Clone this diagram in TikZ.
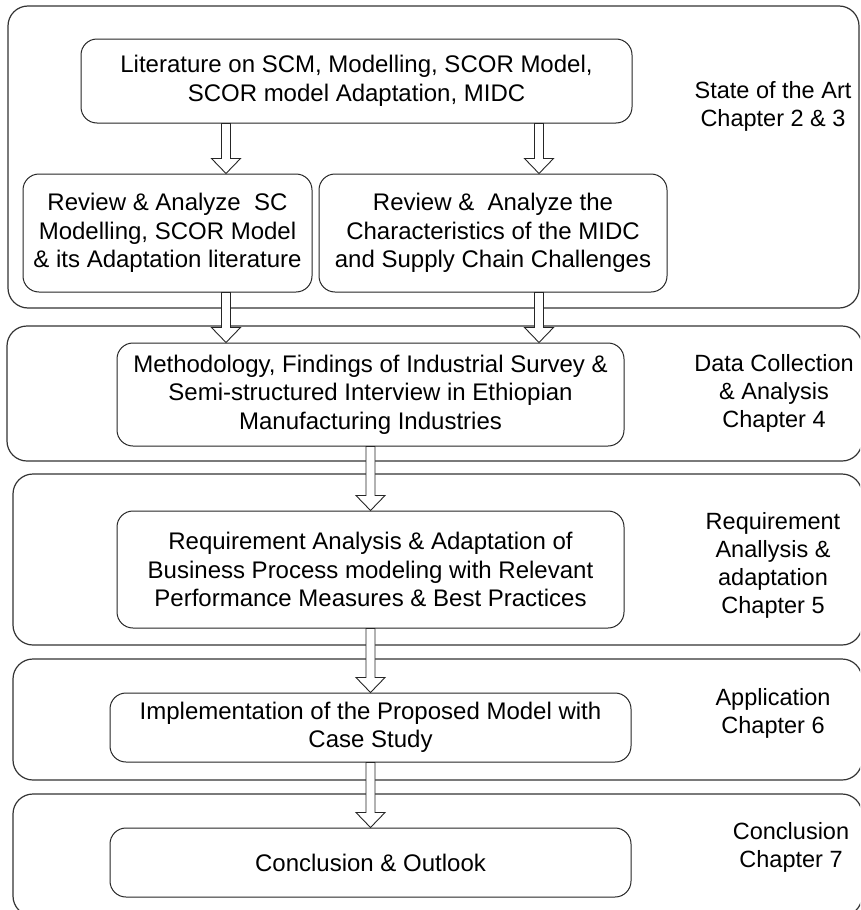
\documentclass[tikz,border=0pt]{standalone}
\usepackage{fontspec}
\setmainfont{Liberation Sans}
\usetikzlibrary{calc}

\tikzset{
  panel/.style={draw=black!80, line width=1.2pt, rounded corners=20pt, inner sep=0pt},
  stepbox/.style={draw=black!85, line width=1pt, rounded corners=16pt, fill=white,
    align=center, inner sep=0pt, font=\fontsize{24}{28.5}\selectfont},
  chapterlabel/.style={align=center, inner sep=0pt, font=\fontsize{23.5}{28}\selectfont},
  flow/.style={draw=black!85, line width=0.9pt, fill=white, line join=miter}
}

% hollow block arrow: #1 column coordinate, #2 source node, #3 target node
\newcommand\flowarrow[3]{%
  \draw[flow] let \p1=(#1 |- #2.south), \p2=(#1 |- #3.north) in
    (\x1-4.5pt,\y1) -- (\x1-4.5pt,\y2+15pt) -- (\x1-14.5pt,\y2+15pt) -- (\x2,\y2)
    -- (\x1+14.5pt,\y2+15pt) -- (\x1+4.5pt,\y2+15pt) -- (\x1+4.5pt,\y1) -- cycle;}

\begin{document}
\begin{tikzpicture}[x=1pt, y=-1pt]
  \useasboundingbox (0,0) rectangle (860,910);
  \clip (0,0) rectangle (860,910);

  % chapter panels
  \node[panel, minimum width=851pt, minimum height=302pt] (p1) at (433.5,157) {};
  \node[panel, minimum width=855pt, minimum height=135pt] (p2) at (434.5,393.5) {};
  \node[panel, minimum width=849pt, minimum height=171pt] (p3) at (437.5,559.5) {};
  \node[panel, minimum width=849pt, minimum height=121pt] (p4) at (437.5,719.5) {};
  \node[panel, minimum width=849pt, minimum height=122pt] (p5) at (437.5,855) {};

  % chapter labels
  \node[chapterlabel] (l1) at (773,106) {State of the Art\\Chapter 2 \& 3};
  \node[chapterlabel] (l2) at (774,393) {Data Collection\\\& Analysis\\Chapter 4};
  \node[chapterlabel] (l3) at (773,565) {Requirement\\Anallysis \&\\adaptation\\Chapter 5};
  \node[chapterlabel] (l4) at (773,713) {Application\\Chapter 6};
  \node[chapterlabel] (l5) at (791,847) {Conclusion\\Chapter 7};

  % work steps
  \node[stepbox, minimum width=551pt, minimum height=84pt] (lit) at (356.5,81)
    {Literature on SCM, Modelling, SCOR Model,\\SCOR model Adaptation, MIDC};
  \node[stepbox, minimum width=289pt, minimum height=118pt] (revsc) at (167.5,233)
    {Review \& Analyze\ \ SC\\Modelling, SCOR Model\\\& its Adaptation literature};
  \node[stepbox, minimum width=348pt, minimum height=118pt] (revmidc) at (493,233)
    {Review \&\ \ Analyze the\\Characteristics of the MIDC\\and Supply Chain Challenges};
  \node[stepbox, minimum width=507pt, minimum height=103pt] (meth) at (370.5,394.5)
    {Methodology, Findings of Industrial Survey \&\\Semi-structured Interview in Ethiopian\\Manufacturing Industries};
  \node[stepbox, minimum width=507pt, minimum height=117pt] (req) at (370.5,569.5)
    {Requirement Analysis \& Adaptation of\\Business Process modeling with Relevant\\Performance Measures \& Best Practices};
  \node[stepbox, minimum width=521pt, minimum height=69pt] (impl) at (370.5,727.5)
    {Implementation of the Proposed Model with\\Case Study};
  \node[stepbox, minimum width=521pt, minimum height=69pt] (concl) at (370.5,862.5)
    {Conclusion \& Outlook};

  % arrow columns
  \coordinate (xl) at (226,0);
  \coordinate (xr) at (539,0);
  \coordinate (xm) at (370.5,0);

  \flowarrow{xl}{lit}{revsc}
  \flowarrow{xr}{lit}{revmidc}
  \flowarrow{xl}{revsc}{meth}
  \flowarrow{xr}{revmidc}{meth}
  \flowarrow{xm}{meth}{req}
  \flowarrow{xm}{req}{impl}
  \flowarrow{xm}{impl}{concl}
\end{tikzpicture}
\end{document}
